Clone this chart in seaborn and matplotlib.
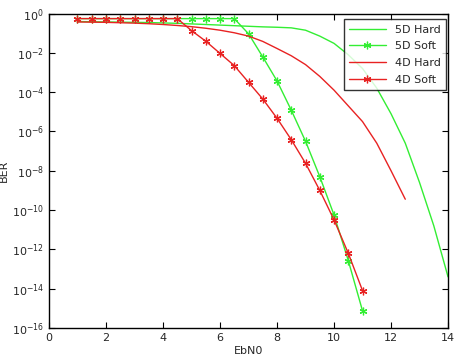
import numpy as np
import pandas as pd
import seaborn as sns
import matplotlib
matplotlib.use("Agg")
import matplotlib.pyplot as plt
from matplotlib.ticker import FixedLocator, FixedFormatter

# EbN0 grids
ebn0_hard_5d = [1, 1.5, 2, 2.5, 3, 3.5, 4, 4.5, 5, 5.5, 6, 6.5, 7, 7.5, 8, 8.5,
                9, 9.5, 10, 10.5, 11, 11.5, 12, 12.5, 13, 13.5, 14]
ebn0_hard_4d = [1, 1.5, 2, 2.5, 3, 3.5, 4, 4.5, 5, 5.5, 6, 6.5, 7, 7.5, 8, 8.5,
                9, 9.5, 10, 10.5, 11, 11.5, 12, 12.5]
ebn0_soft = [1, 1.5, 2, 2.5, 3, 3.5, 4, 4.5, 5, 5.5, 6, 6.5, 7, 7.5, 8, 8.5,
             9, 9.5, 10, 10.5, 11]

# log10(BER)
log_ber_5d_hard = [-0.41, -0.42, -0.43, -0.44, -0.45, -0.46, -0.48, -0.50, -0.53,
                   -0.56, -0.59, -0.62, -0.65, -0.68, -0.70, -0.73, -0.85, -1.15,
                   -1.52, -2.10, -2.80, -3.80, -5.10, -6.60, -8.60, -10.80, -13.40]
log_ber_5d_soft = [-0.26, -0.26, -0.26, -0.26, -0.26, -0.26, -0.26, -0.26, -0.26,
                   -0.26, -0.26, -0.26, -1.03, -2.21, -3.43, -4.92, -6.50, -8.30,
                   -10.25, -12.57, -15.13]
log_ber_4d_hard = [-0.43, -0.44, -0.45, -0.47, -0.49, -0.52, -0.56, -0.61, -0.67,
                   -0.75, -0.85, -0.98, -1.15, -1.42, -1.78, -2.15, -2.60, -3.20,
                   -3.90, -4.70, -5.50, -6.60, -8.00, -9.45]
log_ber_4d_soft = [-0.26, -0.26, -0.26, -0.26, -0.26, -0.26, -0.26, -0.26, -0.87,
                   -1.41, -2.03, -2.65, -3.50, -4.35, -5.33, -6.42, -7.62, -9.00,
                   -10.50, -12.20, -14.10]

series = [
    ("5D Hard", ebn0_hard_5d, log_ber_5d_hard),
    ("5D Soft", ebn0_soft, log_ber_5d_soft),
    ("4D Hard", ebn0_hard_4d, log_ber_4d_hard),
    ("4D Soft", ebn0_soft, log_ber_4d_soft),
]
frames = []
for name, x, y in series:
    frames.append(pd.DataFrame({"EbN0": x, "BER": 10.0 ** np.array(y), "curve": name}))
df = pd.concat(frames, ignore_index=True)

y_ticks = [1e0, 1e-2, 1e-4, 1e-6, 1e-8, 1e-10, 1e-12, 1e-14, 1e-16]
y_labels = ["$10^{0}$", "$10^{-2}$", "$10^{-4}$", "$10^{-6}$", "$10^{-8}$",
            "$10^{-10}$", "$10^{-12}$", "$10^{-14}$", "$10^{-16}$"]

sns.set_style("ticks")
plt.rcParams["font.family"] = ["DejaVu Sans"]
plt.rcParams["mathtext.default"] = "regular"
plt.rcParams["xtick.direction"] = "in"
plt.rcParams["ytick.direction"] = "in"

green = "#33ee33"
red = "#e82222"
asterisk = (6, 2, 0)

fig = plt.figure(figsize=(4.6, 3.6), dpi=100)
ax = fig.add_axes([0.1065, 0.089, 0.8675, 0.8735])

sns.lineplot(data=df[df.curve == "5D Hard"], x="EbN0", y="BER", ax=ax,
             color=green, lw=1.0, label="5D Hard")
sns.lineplot(data=df[df.curve == "5D Soft"], x="EbN0", y="BER", ax=ax,
             color=green, lw=1.0, marker=asterisk, markersize=5.5,
             markeredgecolor=green, markeredgewidth=0.9, label="5D Soft")
sns.lineplot(data=df[df.curve == "4D Hard"], x="EbN0", y="BER", ax=ax,
             color=red, lw=1.0, label="4D Hard")
sns.lineplot(data=df[df.curve == "4D Soft"], x="EbN0", y="BER", ax=ax,
             color=red, lw=1.0, marker=asterisk, markersize=5.5,
             markeredgecolor=red, markeredgewidth=0.9, label="4D Soft")

ax.set_yscale("log")
ax.set_xlim(0, 14)
ax.set_ylim(1e-16, 1e0)
ax.set_xticks([0, 2, 4, 6, 8, 10, 12, 14])
ax.yaxis.set_major_locator(FixedLocator(y_ticks))
ax.yaxis.set_major_formatter(FixedFormatter(y_labels))
ax.yaxis.set_minor_locator(FixedLocator([]))
ax.tick_params(axis="both", which="major", labelsize=8, length=4, width=0.8,
               top=True, right=True, color="black")
ax.set_xlabel("EbN0", fontsize=8, labelpad=2)
ax.set_ylabel("BER", fontsize=8, labelpad=2)
for s in ax.spines.values():
    s.set_linewidth(1.0)
    s.set_color("black")

leg = ax.legend(loc="upper right", bbox_to_anchor=(0.995, 0.982), fontsize=8,
                frameon=True, fancybox=False, handlelength=3.3,
                borderaxespad=0, labelspacing=0.6, borderpad=0.5)
leg.get_frame().set_edgecolor("black")
leg.get_frame().set_linewidth(1.0)

plt.savefig("out.png", dpi=100)
